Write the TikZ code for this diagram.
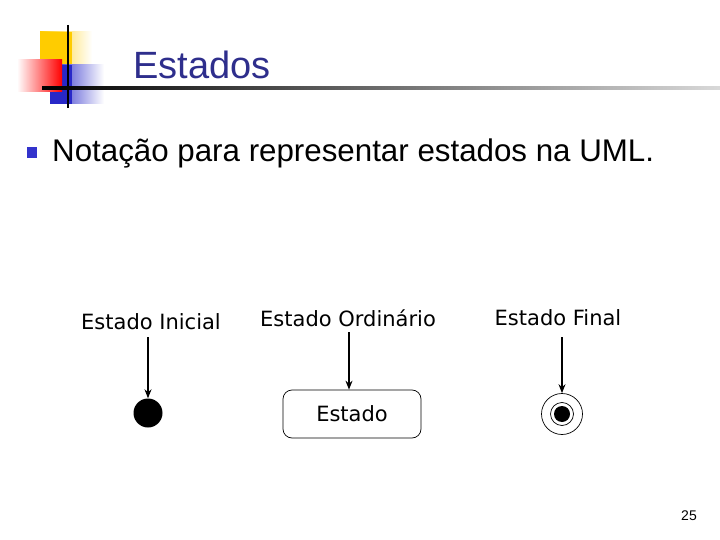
\documentclass[tikz,border=0pt]{standalone}
\usepackage{fontspec}
\setmainfont{Liberation Sans}
\newfontfamily\labfont{DejaVu Sans}
\usetikzlibrary{arrows.meta}
\definecolor{titleblue}{RGB}{46,46,140}
\definecolor{bulblue}{RGB}{51,51,204}
\definecolor{decoyellow}{RGB}{255,204,0}
\definecolor{decoblue}{RGB}{40,40,200}
\begin{document}
\begin{tikzpicture}[x=1pt,y=-1pt,
  lbl/.style={font=\labfont\fontsize{21}{25}\selectfont, inner sep=0pt},
  conn/.style={-{Stealth[length=9pt,width=7pt]}, line width=1.1pt},
  statebox/.style={draw, rounded corners=9pt, minimum width=138pt, minimum height=48pt, line width=0.7pt, font=\labfont\fontsize{21}{25}\selectfont}]
\useasboundingbox (0,0) rectangle (720,540);
% decoration
\shade[left color=decoyellow, right color=white] (40,32) rectangle (92,82);
\fill[decoyellow] (40,32) rectangle (72,82);
\shade[left color=decoblue, right color=white] (50,65) rectangle (104,104);
\fill[decoblue] (50,65) rectangle (72,104);
\shade[left color=white, right color=red] (17,60) rectangle (62,92);
\draw[line width=1.6pt] (68,25) -- (68,108);
\shade[left color=black, right color=black!15] (42,87) rectangle (720,89.5);
% title
\node[anchor=base west, inner sep=0pt, text=titleblue, font=\fontsize{38}{44}\selectfont] (title) at (133,79) {Estados};
% bullet
\fill[bulblue] (27,147) rectangle (37,158);
\node[anchor=base west, inner sep=0pt, font=\fontsize{31.3}{36}\selectfont] (bul) at (52,162) {Notação para representar estados na UML.};
% labels
\node[lbl] (li) at (151,322) {Estado Inicial};
\node[lbl] (lo) at (348,318) {Estado Ordinário};
\node[lbl] (lf) at (558,318) {Estado Final};
% initial
\node[circle, fill=black, minimum size=29pt, inner sep=0pt] (ini) at (148,413) {};
\coordinate (ai) at (148,337);
\draw[conn] (ai) -- (ini);
% ordinary
\node[statebox] (st) at (352,414) {Estado};
\coordinate (ao) at (349,332);
\draw[conn] (ao) -- (ao |- st.north);
% final
\node[circle, draw, line width=0.7pt, minimum size=41pt, inner sep=0pt] (fin) at (562,414) {};
\node[circle, draw, line width=0.7pt, minimum size=23pt, inner sep=0pt] (fin2) at (562,414) {};
\node[circle, fill=black, minimum size=16pt, inner sep=0pt] (fin3) at (562,414) {};
\coordinate (af) at (562,337);
\draw[conn] (af) -- (fin);
% page number
\node[inner sep=0pt, font=\fontsize{14}{16}\selectfont] (pg) at (689,516) {25};
\end{tikzpicture}
\end{document}
